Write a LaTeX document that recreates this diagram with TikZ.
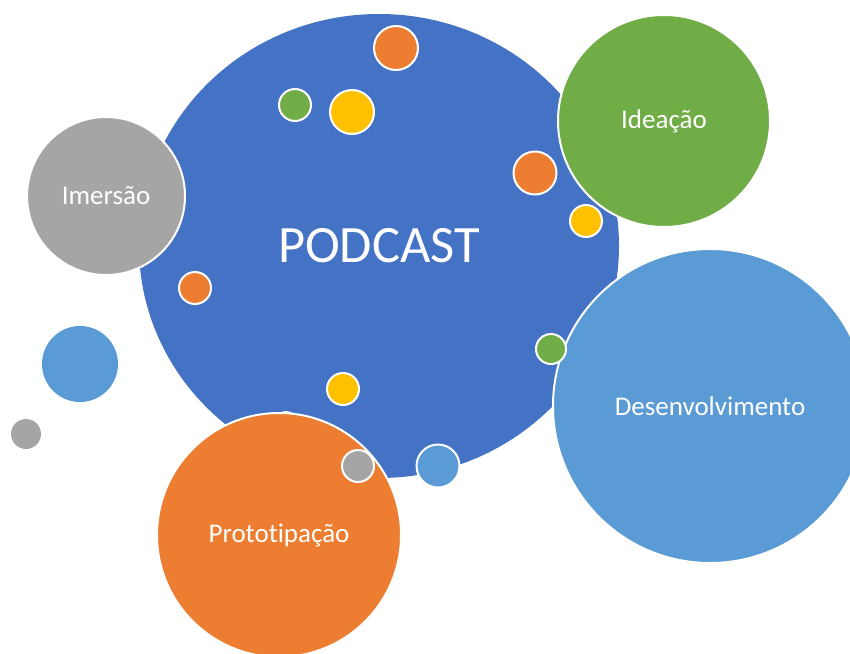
\documentclass[tikz,border=0pt]{standalone}
\usepackage{fontspec}
\setmainfont[Ligatures=NoCommon]{Carlito}
\usetikzlibrary{shapes.geometric}
\definecolor{oblue}{HTML}{4472C4}
\definecolor{oorange}{HTML}{ED7D31}
\definecolor{ogray}{HTML}{A5A5A5}
\definecolor{oyellow}{HTML}{FFC000}
\definecolor{olblue}{HTML}{5B9BD5}
\definecolor{ogreen}{HTML}{70AD47}
\tikzset{
  bubble/.style={circle, inner sep=0pt, draw=white, line width=2pt, text=white, font=\fontsize{27}{30}\selectfont},
  dot/.style={circle, inner sep=0pt, draw=white, line width=2pt},
  plain/.style={circle, inner sep=0pt},
}
\begin{document}
\begin{tikzpicture}[x=1pt,y=-1pt]
\useasboundingbox (0,0) rectangle (850,653);
\clip (0,0) rectangle (850,653);
% main ellipse
\node[ellipse, inner sep=0pt, fill=oblue, minimum width=480pt, minimum height=464pt, text=white, font=\fontsize{52.5}{60}\selectfont] (podcast) at (379,246) {PODCAST};
% small dots inside the main bubble
\node[dot, fill=oorange, minimum size=44pt] (o1) at (396,48) {};
\node[dot, fill=ogreen, minimum size=32pt] (g1) at (295,105) {};
\node[dot, fill=oyellow, minimum size=44pt] (y1) at (352,112) {};
\node[dot, fill=oorange, minimum size=43pt] (o2) at (535,173) {};
\node[dot, fill=oyellow, minimum size=32pt] (y2) at (586,221) {};
\node[dot, fill=oorange, minimum size=32pt] (o3) at (195,288) {};
\node[dot, fill=oyellow, minimum size=32pt] (y3) at (343,389) {};
\node[dot, fill=white, minimum size=24pt] (w1) at (286,424) {};
% free dots
\node[plain, fill=olblue, minimum size=76pt] (lb1) at (80,364) {};
\node[plain, fill=ogray, minimum size=30pt] (gr1) at (26,434) {};
% phase bubbles
\node[bubble, fill=ogray, minimum size=158pt] (imersao) at (106,196) {Imersão};
\node[bubble, fill=ogreen, minimum size=212pt] (ideacao) at (664,121) {Ideação};
\node[bubble, fill=olblue, minimum size=314pt] (desenv) at (710,406) {Desenvolvimento};
\node[dot, fill=ogreen, minimum size=30pt] (g2) at (551,349) {};
\node[bubble, fill=oorange, minimum size=244pt] (proto) at (279,535) {Prototipação};
\node[dot, fill=ogray, minimum size=32pt] (gr2) at (358,466) {};
\node[dot, fill=olblue, minimum size=43pt] (lb2) at (438,466) {};
\end{tikzpicture}
\end{document}
